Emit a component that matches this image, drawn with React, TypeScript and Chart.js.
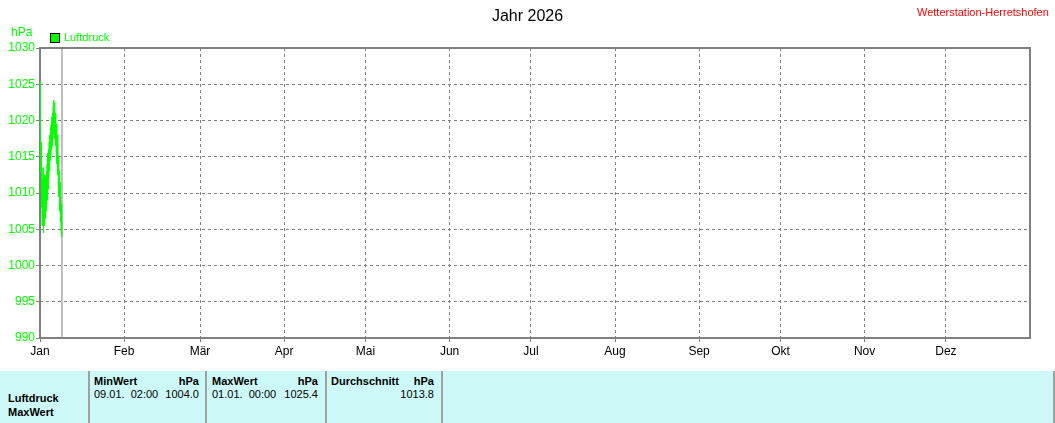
import React, { useEffect, useRef } from "react";
import Chart from "chart.js/auto";

const monthStarts = [0, 31, 59, 90, 120, 151, 181, 212, 243, 273, 304, 334];
const monthLabels = ["Jan", "Feb", "Mär", "Apr", "Mai", "Jun", "Jul", "Aug", "Sep", "Okt", "Nov", "Dez"];
const yMin = 990;
const yMax = 1030;
const yStep = 5;

// hours since 01.01. 00:00
const sampleHours = [
  0, 3, 6, 9, 12, 15, 18, 21,
  24, 27, 30, 33, 36, 39, 42, 45,
  48, 51, 54, 57, 60, 63, 66, 69,
  72, 75, 78, 81, 84, 87, 90, 93,
  96, 99, 102, 105, 108, 111, 114, 117,
  120, 123, 126, 129, 132, 135, 138, 141,
  144, 147, 150, 153, 156, 159, 162, 165,
  168, 171, 174, 177, 180, 183, 186, 189,
  192, 194,
];
const luftdruck = [
  1025.4, 1021.0, 1013.0, 1017.0, 1008.0, 1013.5, 1005.5, 1012.0,
  1007.0, 1013.5, 1004.5, 1011.0, 1006.0, 1012.5, 1005.5, 1010.0,
  1006.5, 1012.5, 1007.5, 1013.0, 1008.5, 1014.0, 1009.0, 1015.5,
  1010.5, 1016.0, 1012.0, 1017.0, 1013.0, 1018.0, 1014.5, 1019.0,
  1015.0, 1019.5, 1016.0, 1020.5, 1016.5, 1021.0, 1017.5, 1022.0,
  1018.0, 1022.8, 1018.5, 1022.5, 1017.5, 1021.0, 1016.5, 1020.0,
  1015.5, 1019.5, 1014.0, 1018.0, 1012.5, 1017.0, 1011.0, 1015.0,
  1009.5, 1013.0, 1007.5, 1011.5, 1006.0, 1010.0, 1005.0, 1008.5,
  1005.5, 1004.0,
];
const nowDay = 8.1;

const FONT = "'Liberation Sans', Arial, sans-serif";

const framePlugin = {
  id: "frame",
  beforeDatasetsDraw(chart: any) {
    const { ctx, chartArea } = chart;
    ctx.save();
    ctx.strokeStyle = "#808080";
    ctx.lineWidth = 2;
    ctx.strokeRect(chartArea.left, chartArea.top, chartArea.right - chartArea.left, chartArea.bottom - chartArea.top);
    ctx.restore();
  },
};

function PressureChart() {
  const ref = useRef<HTMLCanvasElement | null>(null);
  useEffect(() => {
    if (!ref.current) return;
    const points = sampleHours.map((h, i) => ({ x: h / 24, y: luftdruck[i] }));
    const chart = new Chart(ref.current, {
      type: "line",
      data: {
        datasets: [
          {
            label: "Luftdruck",
            data: points,
            borderColor: "#00ff00",
            backgroundColor: "#00ff00",
            borderWidth: 1,
            pointRadius: 0,
            tension: 0,
          },
          {
            label: "jetzt",
            data: [
              { x: nowDay, y: yMin },
              { x: nowDay, y: yMax },
            ],
            borderColor: "#808080",
            borderWidth: 1,
            pointRadius: 0,
          },
        ],
      },
      options: {
        animation: false,
        responsive: false,
        layout: { padding: { top: 48, right: 25, left: 0, bottom: 0 } },
        plugins: { legend: { display: false }, tooltip: { enabled: false }, title: { display: false } },
        scales: {
          x: {
            type: "linear",
            min: 0,
            max: 365,
            afterBuildTicks: (scale: any) => {
              scale.ticks = monthStarts.map((v) => ({ value: v }));
            },
            afterFit: (scale: any) => {
              scale.height = 32;
            },
            ticks: {
              autoSkip: false,
              maxRotation: 0,
              color: "#000000",
              font: { family: FONT, size: 12 },
              padding: 2,
              callback: (v: any) => {
                const idx = monthStarts.indexOf(Number(v));
                return idx >= 0 ? monthLabels[idx] : "";
              },
            },
            grid: {
              color: "#808080",
              lineWidth: 1,
              tickLength: 4,
              tickColor: "#808080",
            },
            border: { display: false, dash: [3, 3] },
          },
          y: {
            min: yMin,
            max: yMax,
            afterFit: (scale: any) => {
              scale.width = 40;
            },
            ticks: {
              stepSize: yStep,
              color: "#00ff00",
              font: { family: FONT, size: 12 },
              padding: 1,
              callback: (v: any) => String(v),
            },
            grid: {
              color: "#808080",
              lineWidth: 1,
              tickLength: 4,
              tickColor: "#808080",
            },
            border: { display: false, dash: [3, 3] },
          },
        },
      },
      plugins: [framePlugin],
    });
    return () => chart.destroy();
  }, []);
  return <canvas ref={ref} width={1055} height={370} style={{ position: "absolute", left: 0, top: 0 }} />;
}

const txt = (extra: React.CSSProperties): React.CSSProperties => ({
  position: "absolute",
  fontFamily: FONT,
  fontSize: 11,
  lineHeight: "13px",
  whiteSpace: "pre",
  ...extra,
});

const sep = (x: number): React.CSSProperties => ({
  position: "absolute",
  left: x,
  top: 371,
  width: 2,
  height: 52,
  background: "#a0a0a0",
});

export default function App() {
  return (
    <div style={{ position: "absolute", left: 0, top: 0, width: 1055, height: 423, background: "#ffffff", overflow: "hidden" }}>
      <PressureChart />
      <div style={txt({ left: 0, width: 1055, top: 7, fontSize: 16, lineHeight: "18px", textAlign: "center" })}>Jahr 2026</div>
      <div style={txt({ left: 917, top: 6, color: "#ff0000", fontSize: 11 })}>Wetterstation-Herretshofen</div>
      <div style={txt({ left: 11, top: 26, color: "#00ff00", fontSize: 12 })}>hPa</div>
      <div style={{ position: "absolute", left: 50, top: 33, width: 8, height: 8, background: "#00ff00", border: "1px solid #000" }} />
      <div style={txt({ left: 64, top: 31, color: "#00ff00" })}>Luftdruck</div>

      <div style={{ position: "absolute", left: 0, top: 371, width: 1055, height: 52, background: "#ccf9f7" }} />
      <div style={sep(88)} />
      <div style={sep(205)} />
      <div style={sep(325)} />
      <div style={sep(441)} />
      <div style={sep(1053)} />

      <div style={txt({ left: 8, top: 392, fontWeight: "bold" })}>Luftdruck</div>
      <div style={txt({ left: 8, top: 406, fontWeight: "bold" })}>MaxWert</div>

      <div style={txt({ left: 94, top: 375, fontWeight: "bold" })}>MinWert</div>
      <div style={txt({ left: 94, width: 105, top: 375, fontWeight: "bold", textAlign: "right" })}>hPa</div>
      <div style={txt({ left: 94, top: 388 })}>09.01.  02:00</div>
      <div style={txt({ left: 94, width: 105, top: 388, textAlign: "right" })}>1004.0</div>

      <div style={txt({ left: 212, top: 375, fontWeight: "bold" })}>MaxWert</div>
      <div style={txt({ left: 212, width: 106, top: 375, fontWeight: "bold", textAlign: "right" })}>hPa</div>
      <div style={txt({ left: 212, top: 388 })}>01.01.  00:00</div>
      <div style={txt({ left: 212, width: 106, top: 388, textAlign: "right" })}>1025.4</div>

      <div style={txt({ left: 331, top: 375, fontWeight: "bold" })}>Durchschnitt</div>
      <div style={txt({ left: 331, width: 103, top: 375, fontWeight: "bold", textAlign: "right" })}>hPa</div>
      <div style={txt({ left: 331, width: 103, top: 388, textAlign: "right" })}>1013.8</div>
    </div>
  );
}
